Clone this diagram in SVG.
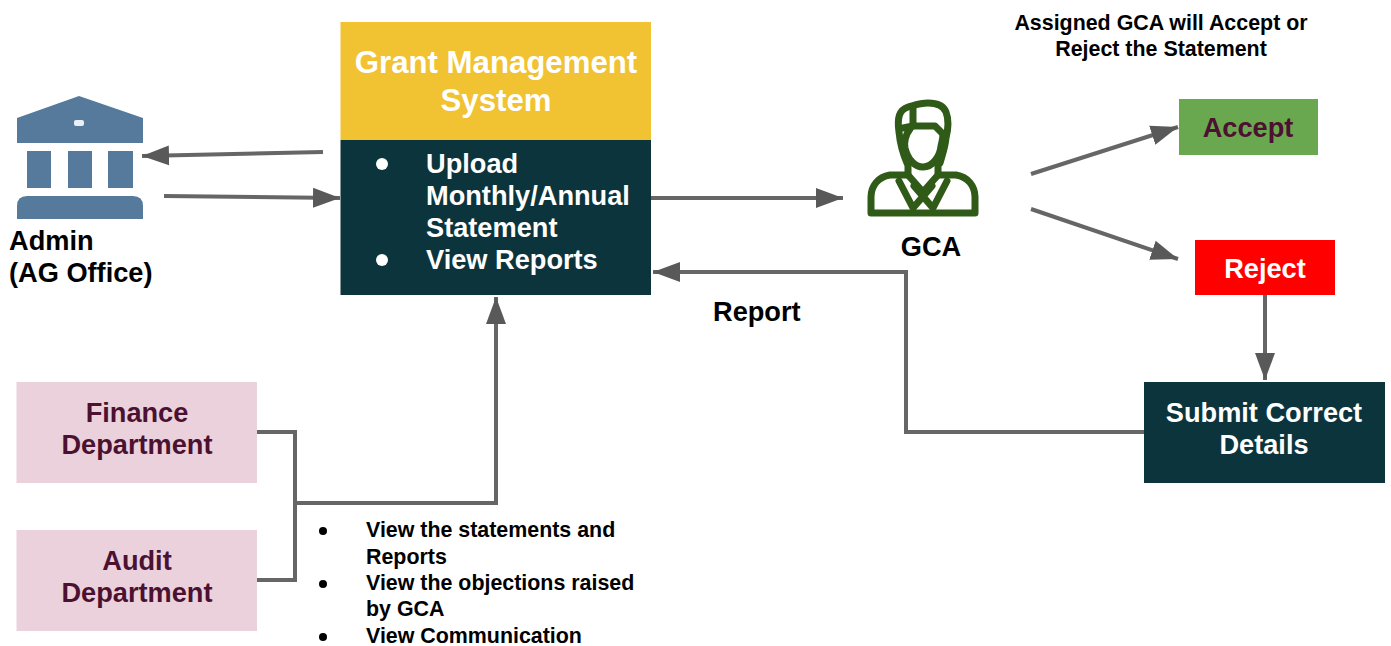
<svg xmlns="http://www.w3.org/2000/svg" width="1391" height="646" viewBox="0 0 1391 646">
<style>
text{font-family:"Liberation Sans",Arial,sans-serif;font-weight:700}
.t26{font-size:27.2px}.w{fill:#fff}.m{fill:#4c1130}.k{fill:#000}
.c{fill:none;stroke:#666;stroke-width:4}
.s{font-size:21.4px}
.bl{font-size:21.4px}
.ic{fill:none;stroke:#2f5a18;stroke-width:7;stroke-linejoin:round;stroke-linecap:round}
.b{fill:#557a9b}
</style>
<defs>
<marker id="a" markerUnits="userSpaceOnUse" markerWidth="30" markerHeight="24" refX="27" refY="12" orient="auto"><path d="M0 2L27 12L0 22Z" fill="#595959"/></marker>
</defs>
<rect width="1391" height="646" fill="#fff"/>
<g id="connectors">
<path class="c" marker-end="url(#a)" d="M323 152L142 156"/>
<path class="c" marker-end="url(#a)" d="M164 196L340 198"/>
<path class="c" marker-end="url(#a)" d="M651 198H843"/>
<path class="c" marker-end="url(#a)" d="M1031 174L1178 127"/>
<path class="c" marker-end="url(#a)" d="M1031 209L1178 259"/>
<path class="c" marker-end="url(#a)" d="M1265 295V380"/>
<path class="c" marker-end="url(#a)" d="M1144 432H906V272H653"/>
<path class="c" d="M257 432H295V580H257"/>
<path class="c" marker-end="url(#a)" d="M295 503H496V297"/>
</g>
<g id="admin">
<path class="b" d="M79 96L143 118V143H17V118Z"/><rect x="74" y="120" width="10" height="6" rx="2" fill="#e8f0f5"/>
<rect class="b" x="27" y="151" width="24" height="37"/><rect class="b" x="68" y="151" width="24" height="37"/><rect class="b" x="108" y="151" width="25" height="37"/>
<path class="b" d="M27 196H133Q143 196 143 206V219H17V206Q17 196 27 196Z"/>
<text class="t26 k" x="9" y="250">Admin</text><text class="t26 k" x="9" y="282">(AG Office)</text>
</g>
<g id="gms">
<rect x="340.500" y="22" width="310.500" height="118" fill="#f1c232"/>
<rect x="340.500" y="140" width="310.500" height="155" fill="#0c343d"/>
<text class="w" font-size="31.200" text-anchor="middle" x="496" y="72.500">Grant Management</text>
<text class="w" font-size="31.200" text-anchor="middle" x="496" y="110.500">System</text>
<circle class="w" cx="382" cy="164" r="6"/><circle class="w" cx="382" cy="260" r="6"/>
<text class="t26 w" x="426" y="172.500">Upload</text><text class="t26 w" x="426" y="204.500">Monthly/Annual</text><text class="t26 w" x="426" y="236.500">Statement</text><text class="t26 w" x="426" y="268.500">View Reports</text>
</g>
<g id="gca">
<path class="ic" d="M907 163C902 152 900 142 899 132C897 118 899 110 908 107C915 105 920 103 928 103C938 103 944 107 946 112C949 120 948 130 946 138C945 148 942 156 940 163"/>
<path class="ic" d="M913 107V126H935L944 135"/>
<path class="ic" d="M903 128L913 126"/>
<path class="ic" d="M910 129C905 135 904 143 905 148C908 160 915 167 923 167C933 167 940 156 941 146C942 142 943 138 943 134"/>
<path class="ic" d="M908 163V175L923 192L938 175V163"/>
<path class="ic" d="M908 175H890C878 177 871 186 871 197V213H975V197C975 186 968 177 956 175H938"/>
<path class="ic" d="M899 181L913 208L932 186M947 181L933 208L914 186"/>
<text class="t26 k" text-anchor="middle" x="931" y="256">GCA</text>
</g>
<g id="note"><text class="s k" text-anchor="middle" x="1161" y="30">Assigned GCA will Accept or</text><text class="s k" text-anchor="middle" x="1161" y="56">Reject the Statement</text></g>
<g id="accept"><rect x="1179" y="99" width="139" height="56" fill="#6aa84f"/><text class="t26 m" text-anchor="middle" x="1248" y="137">Accept</text></g>
<g id="reject"><rect x="1195" y="240" width="140" height="55" fill="#ff0000"/><text class="t26 w" text-anchor="middle" x="1265" y="278">Reject</text></g>
<g id="submit"><rect x="1144" y="382" width="241" height="101" fill="#0c343d"/><text class="t26 w" text-anchor="middle" x="1264" y="422">Submit Correct</text><text class="t26 w" text-anchor="middle" x="1264" y="454">Details</text></g>
<g id="report-label"><text class="t26 k" x="713" y="320.500">Report</text></g>
<g id="finance"><rect x="16.500" y="382" width="240.500" height="101" fill="#ead1dc"/><text class="t26 m" text-anchor="middle" x="137" y="422">Finance</text><text class="t26 m" text-anchor="middle" x="137" y="454">Department</text></g>
<g id="audit"><rect x="16.500" y="530" width="240.500" height="101" fill="#ead1dc"/><text class="t26 m" text-anchor="middle" x="137" y="570">Audit</text><text class="t26 m" text-anchor="middle" x="137" y="602">Department</text></g>
<g id="bullets">
<circle class="k" cx="323" cy="531" r="4"/><circle class="k" cx="323" cy="584" r="4"/><circle class="k" cx="323" cy="637" r="4"/>
<text class="bl k" x="366" y="537">View the statements and</text><text class="bl k" x="366" y="564">Reports</text><text class="bl k" x="366" y="590">View the objections raised</text><text class="bl k" x="366" y="616">by GCA</text><text class="bl k" x="366" y="643">View Communication</text>
</g>
</svg>
